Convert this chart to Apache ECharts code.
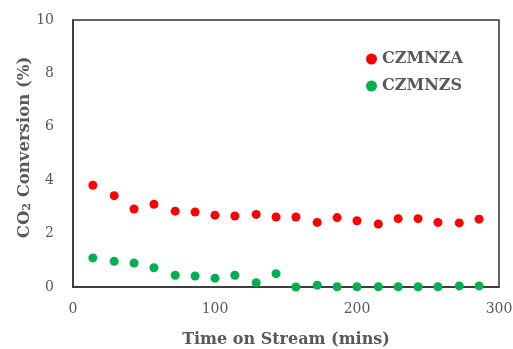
<!DOCTYPE html>
<html><head><meta charset="utf-8">
<script src="https://cdn.jsdelivr.net/npm/echarts@6/dist/echarts.min.js"></script>
<style>html,body{margin:0;padding:0;background:#fff}#c{width:513px;height:349px}</style>
</head><body><div id="c"></div>
<script>
const times = [14, 29, 43, 57, 72, 86, 100, 114, 129, 143, 157, 172, 186, 200, 215, 229, 243, 257, 272, 286];
const czmnza = [3.81, 3.42, 2.92, 3.10, 2.84, 2.81, 2.69, 2.66, 2.72, 2.62, 2.62, 2.42, 2.60, 2.48, 2.36, 2.56, 2.56, 2.42, 2.40, 2.54];
const czmnzs = [1.09, 0.96, 0.90, 0.72, 0.44, 0.41, 0.33, 0.44, 0.16, 0.50, 0.00, 0.07, 0.01, 0.01, 0.01, 0.01, 0.01, 0.01, 0.04, 0.04];
const xTicks = [0, 100, 200, 300];
const yTicks = [0, 2, 4, 6, 8, 10];
const seriesNames = ['CZMNZA', 'CZMNZS'];

const font = 'DejaVu Serif';
const chart = echarts.init(document.getElementById('c'));
chart.setOption({
  animation: false,
  grid: { left: 73, right: 14, top: 20, bottom: 62, show: true, borderColor: '#333', borderWidth: 1.5,
    outerBoundsMode: 'none', containLabel: false },
  legend: {
    data: seriesNames, orient: 'vertical', left: 361, top: 46, itemGap: 11,
    itemWidth: 11, itemHeight: 11,
    textStyle: { fontFamily: font, fontSize: 16, fontWeight: 'bold', color: '#595959' }
  },
  xAxis: {
    type: 'value', min: 0, max: 300, interval: 100,
    name: 'Time on Stream (mins)', nameLocation: 'middle', nameGap: 45,
    nameTextStyle: { fontFamily: font, fontSize: 16, fontWeight: 'bold', color: '#595959' },
    axisLine: { show: true, lineStyle: { color: '#333', width: 1.5 } },
    axisTick: { show: false }, splitLine: { show: false },
    axisLabel: { fontFamily: font, fontSize: 14, color: '#595959', margin: 15 }
  },
  yAxis: {
    type: 'value', min: 0, max: 10, interval: 2,
    name: 'CO{sub|2} Conversion (%)', nameLocation: 'middle', nameGap: 40, nameMoveOverlap: false,
    nameTextStyle: { fontFamily: font, fontSize: 16.5, fontWeight: 'bold', color: '#595959', padding: [0, 0, 0, 12],
      rich: { sub: { fontFamily: font, fontSize: 11, fontWeight: 'bold', color: '#595959', verticalAlign: 'bottom', padding: [6, 0, 0, 0] } } },
    axisLine: { show: true, lineStyle: { color: '#333', width: 1.5 } },
    axisTick: { show: false }, splitLine: { show: false },
    axisLabel: { fontFamily: font, fontSize: 14, color: '#595959', margin: 19 }
  },
  series: [
    { name: seriesNames[0], type: 'scatter', symbolSize: 9, itemStyle: { color: '#FF0000', opacity: 1 },
      data: times.map((t, i) => [t, czmnza[i]]) },
    { name: seriesNames[1], type: 'scatter', symbolSize: 9, itemStyle: { color: '#00B050', opacity: 1 },
      data: times.map((t, i) => [t, czmnzs[i]]) }
  ]
});
</script></body></html>
